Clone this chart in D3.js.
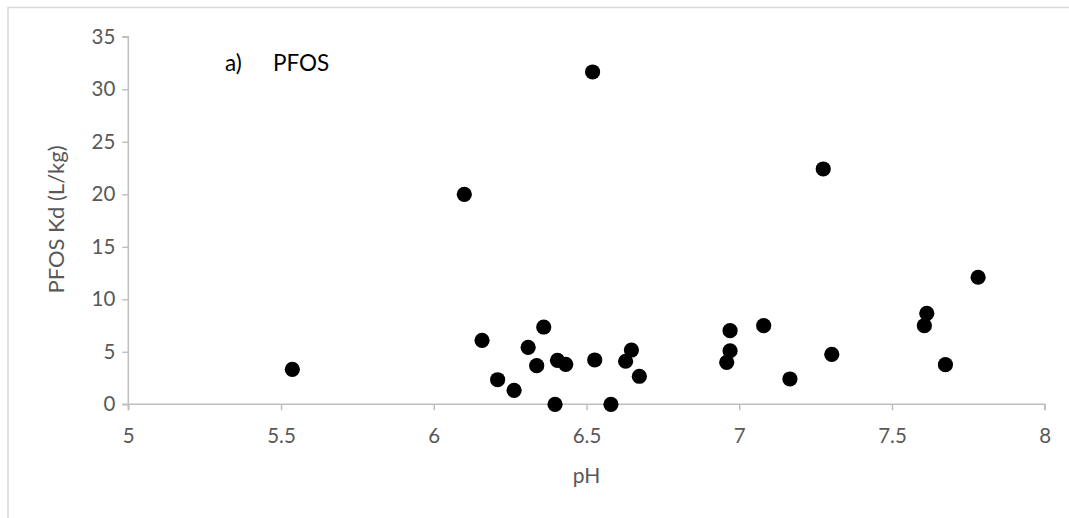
<!DOCTYPE html>
<html>
<head>
<meta charset="utf-8">
<script src="https://cdn.jsdelivr.net/npm/d3@7"></script>
<style>
  html, body { margin: 0; padding: 0; background: #fff; }
  svg { display: block; }
  text { font-family: Lato, "Open Sans", sans-serif; }
</style>
</head>
<body>
<svg id="chart" width="1069" height="518"></svg>
<script>
// Soil pH vs. PFOS sorption coefficient
const pH = [5.537, 6.100, 6.158, 6.209, 6.263, 6.309, 6.337, 6.360, 6.397, 6.405,
            6.432, 6.520, 6.527, 6.580, 6.628, 6.647, 6.673, 6.959, 6.970, 6.970,
            7.080, 7.166, 7.275, 7.303, 7.606, 7.614, 7.675, 7.782];
const kd = [3.33, 20.0, 6.09, 2.34, 1.33, 5.43, 3.68, 7.36, 0.0, 4.19,
            3.81, 31.65, 4.22, 0.0, 4.10, 5.17, 2.67, 4.00, 5.10, 7.01,
            7.49, 2.41, 22.41, 4.76, 7.49, 8.67, 3.77, 12.10];
const xTicks = [5, 5.5, 6, 6.5, 7, 7.5, 8];
const yTicks = [0, 5, 10, 15, 20, 25, 30, 35];
const xTitle = "pH";
const yTitle = "PFOS Kd (L/kg)";
const panelLabel = ["a)", "PFOS"];

const svg = d3.select("#chart");
const W = 1069, H = 518;
const axisColor = "#bfbfbf", textColor = "#595959";
const font = "Lato, 'Open Sans', sans-serif";

// chart area frame
svg.append("path")
  .attr("d", `M8,${H} L8,7.5 L${W},7.5`)
  .attr("fill", "none")
  .attr("stroke", "#d9d9d9")
  .attr("stroke-width", 1.5);

const x = d3.scaleLinear().domain([5, 8]).range([128.3, 1044.7]);
const y = d3.scaleLinear().domain([0, 35]).range([404.3, 36.8]);

// x axis
const gx = svg.append("g").attr("transform", `translate(0,${y(0)})`)
  .call(d3.axisBottom(x).tickValues(xTicks).tickSize(6).tickPadding(18.5)
    .tickFormat(d3.format("")));
gx.select(".domain").attr("stroke", axisColor).attr("stroke-width", 1.5)
  .attr("d", `M${x(5)},6V0H${x(8)}V6`);
gx.selectAll(".tick line").attr("stroke", axisColor).attr("stroke-width", 1.5);
gx.selectAll(".tick text").attr("fill", textColor).attr("font-size", 20.5)
  .attr("font-family", font);

// y axis
const gy = svg.append("g").attr("transform", `translate(${x(5)},0)`)
  .call(d3.axisLeft(y).tickValues(yTicks).tickSize(6).tickPadding(7));
gy.select(".domain").attr("stroke", axisColor).attr("stroke-width", 1.5)
  .attr("d", `M-6,${y(35)}H0V${y(0)}H-6`);
gy.selectAll(".tick line").attr("stroke", axisColor).attr("stroke-width", 1.5);
gy.selectAll(".tick text").attr("fill", textColor).attr("font-size", 20.5)
  .attr("font-family", font);

// axis titles
svg.append("text")
  .attr("x", (x(5) + x(8)) / 2).attr("y", 483)
  .attr("text-anchor", "middle").attr("fill", textColor).attr("font-size", 21)
  .text(xTitle);
svg.append("text")
  .attr("transform", `translate(64,219.5) rotate(-90)`)
  .attr("text-anchor", "middle").attr("fill", textColor).attr("font-size", 22)
  .text(yTitle);

// panel label
svg.append("text").attr("x", 225).attr("y", 71).attr("font-size", 22.5).attr("fill", "#000")
  .text(panelLabel[0]);
svg.append("text").attr("x", 273).attr("y", 71).attr("font-size", 22.5).attr("fill", "#000")
  .text(panelLabel[1]);

// points
svg.append("g").selectAll("circle")
  .data(d3.zip(pH, kd))
  .join("circle")
  .attr("cx", d => x(d[0]))
  .attr("cy", d => y(d[1]))
  .attr("r", 7.6)
  .attr("fill", "#000");
</script>
</body>
</html>
